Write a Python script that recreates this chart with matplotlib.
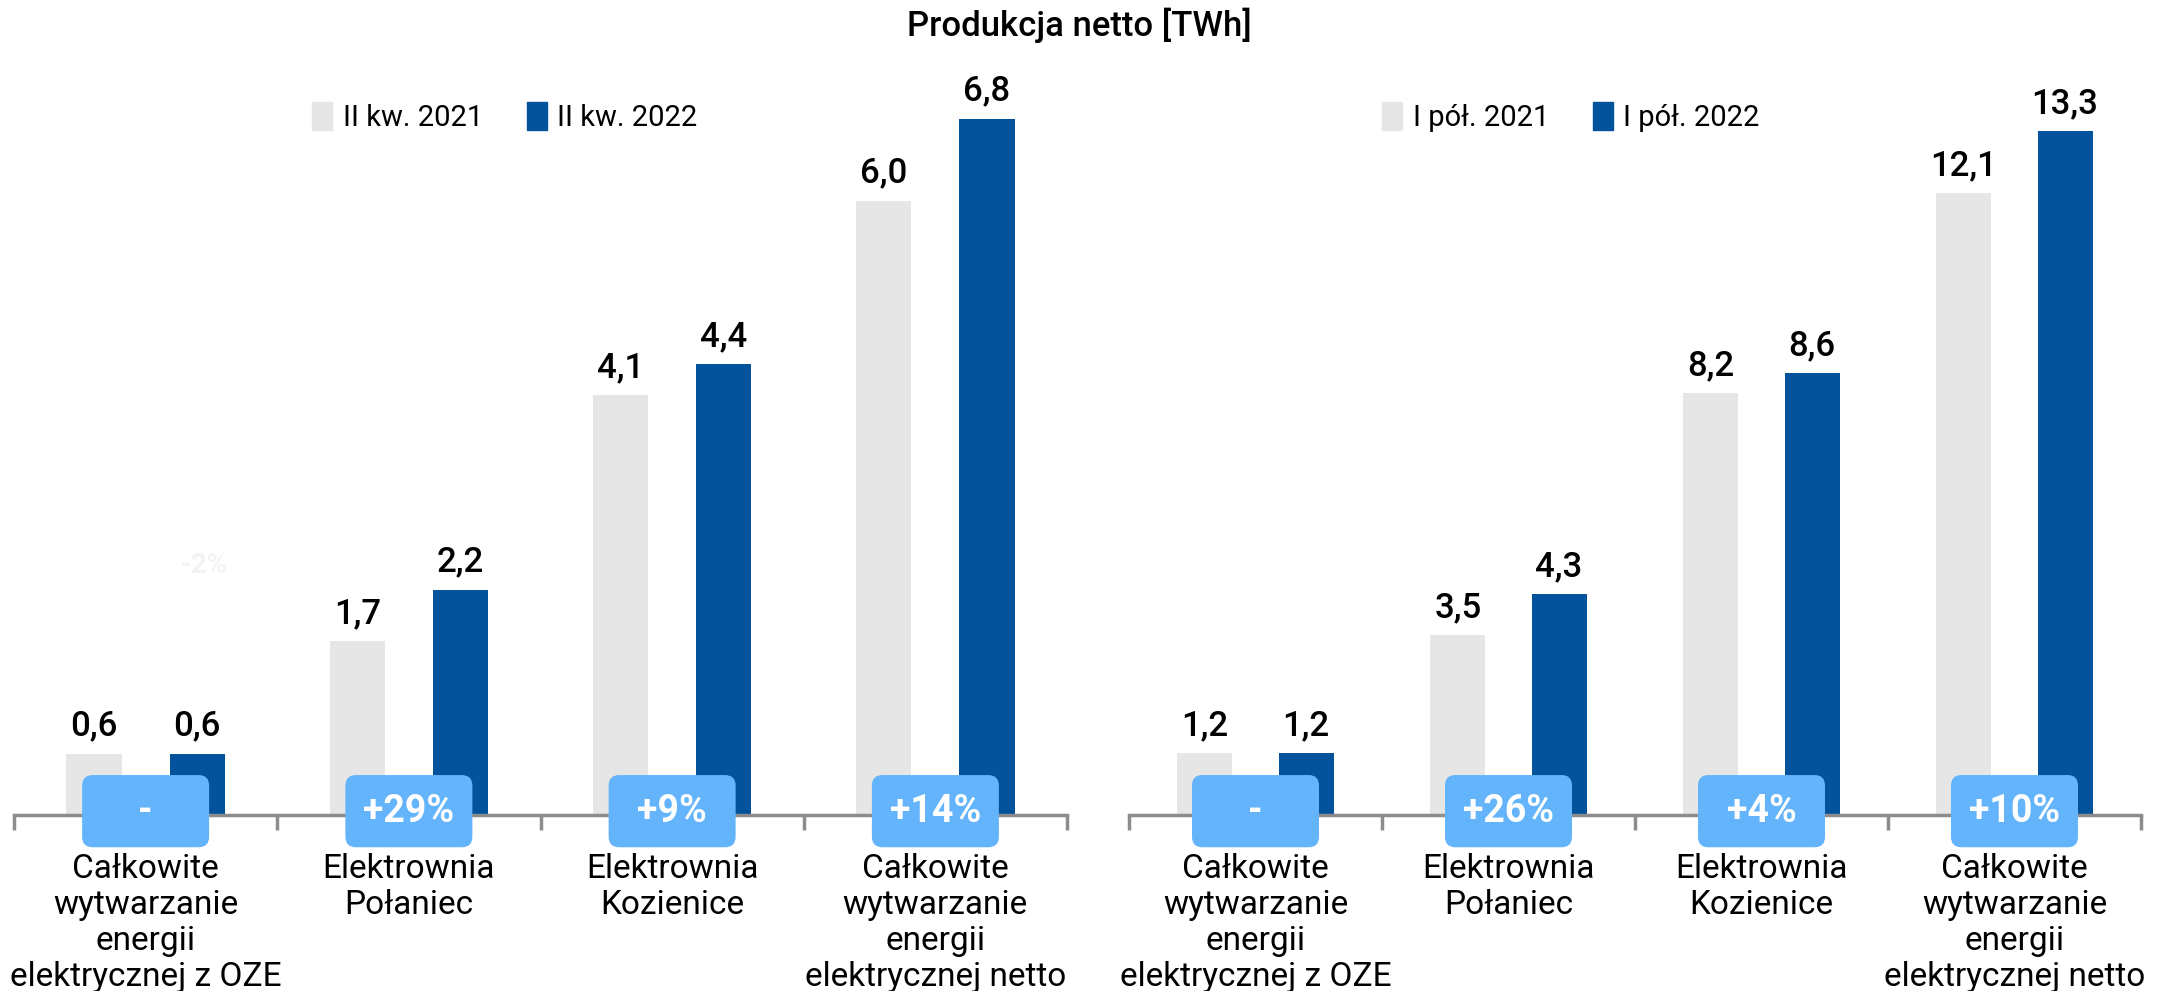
import matplotlib
matplotlib.use('agg')
from matplotlib import pyplot as plt
from matplotlib.patches import FancyBboxPatch, Patch
import matplotlib.transforms as mtransforms

plt.rcParams['font.family'] = ['Roboto', 'DejaVu Sans']

categories = ['Całkowite\nwytwarzanie\nenergii\nelektrycznej z OZE',
              'Elektrownia\nPołaniec',
              'Elektrownia\nKozienice',
              'Całkowite\nwytwarzanie\nenergii\nelektrycznej netto']

q_2021 = [0.6, 1.7, 4.1, 6.0]
q_2022 = [0.6, 2.2, 4.4, 6.8]
q_change = ['-', '+29%', '+9%', '+14%']
q_legend = ['II kw. 2021', 'II kw. 2022']

h_2021 = [1.2, 3.5, 8.2, 12.1]
h_2022 = [1.2, 4.3, 8.6, 13.3]
h_change = ['-', '+26%', '+4%', '+10%']
h_legend = ['I pół. 2021', 'I pół. 2022']

GRAY = '#E6E6E6'
BLUE = '#02529C'
BADGE = '#63B4FA'
AXIS = '#8C8C8C'

W, H = 2159, 991
fig = plt.figure(figsize=(W / 100, H / 100), dpi=100)

fig.text(0.5, 1 - 25 / H, 'Produkcja netto [TWh]', ha='center', va='center',
         fontsize=25, fontweight='medium')


def panel(x0, x1, top, v1, v2, changes, legend, leg_x, offs, bw):
    ax = fig.add_axes([x0 / W, 1 - 815 / H, (x1 - x0) / W, 768 / H])
    n = len(v1)
    xs = list(range(n))
    ax.bar([x - offs for x in xs], v1, width=bw, color=GRAY)
    ax.bar([x + offs for x in xs], v2, width=bw, color=BLUE)
    for x, a, b in zip(xs, v1, v2):
        for xx, v in ((x - offs, a), (x + offs, b)):
            ax.annotate(f'{v:.1f}'.replace('.', ','), (xx, v), xytext=(0, 8),
                        textcoords='offset points', ha='center', va='bottom',
                        fontsize=25, fontweight='medium')
    ax.set_xlim(-0.5, n - 0.5)
    ax.set_ylim(0, top)
    for s in ['top', 'left', 'right']:
        ax.spines[s].set_visible(False)
    ax.spines['bottom'].set_color(AXIS)
    ax.spines['bottom'].set_linewidth(2.5)
    ax.set_yticks([])
    ax.set_xticks([x - 0.5 for x in range(n + 1)])
    ax.set_xticklabels([])
    ax.tick_params(axis='x', which='major', length=11, width=2.5, color=AXIS)
    ax.set_xticks(xs, minor=True)
    ax.set_xticklabels(categories, minor=True, fontsize=24, linespacing=1.17,
                       va='top')
    ax.tick_params(axis='x', which='minor', length=0, pad=27)

    trans = mtransforms.blended_transform_factory(ax.transData, ax.transAxes)
    bwid = 127 / ((x1 - x0) / n)
    for x, c in zip(xs, changes):
        p = FancyBboxPatch((x - bwid / 2, -0.042), bwid, 0.094,
                           boxstyle='round,pad=0,rounding_size=0.04',
                           mutation_aspect=0.34, transform=trans,
                           fc=BADGE, ec='none', clip_on=False, zorder=5)
        ax.add_patch(p)
        ax.text(x, 0.004, c, transform=trans, ha='center', va='center',
                color='white', fontsize=27, fontweight='bold', zorder=6)

    handles = [Patch(color=GRAY, label=legend[0]), Patch(color=BLUE, label=legend[1])]
    fig.legend(handles=handles, loc='center left',
               bbox_to_anchor=(leg_x / W, 1 - 117 / H), ncol=2, frameon=False,
               fontsize=21, handlelength=0.7, handleheight=1.1,
               handletextpad=0.35, columnspacing=1.5, borderpad=0,
               borderaxespad=0)
    return ax


axl = panel(14, 1067, 7.5, q_2021, q_2022, q_change, q_legend, 312, 0.196, 0.21)
axr = panel(1129, 2141, 14.94, h_2021, h_2022, h_change, h_legend, 1382, 0.2, 0.217)

# faint label hidden behind the white background in the original
axl.text(0.222, 2.44, '-2%', ha='center', va='center', color='#F3F3F3',
         fontsize=20, fontweight='bold')

fig.savefig('out.png', dpi=100)
